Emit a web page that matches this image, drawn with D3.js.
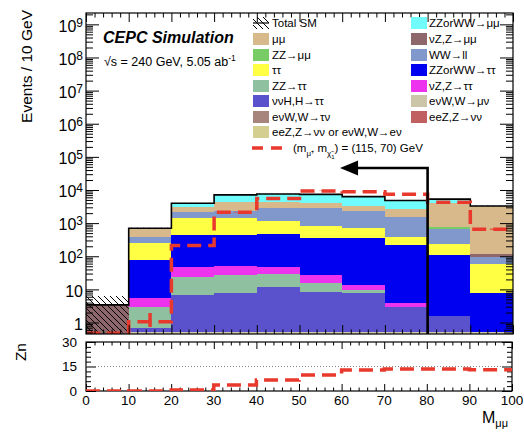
<!DOCTYPE html>
<html>
<head>
<meta charset="utf-8">
<script src="https://cdnjs.cloudflare.com/ajax/libs/d3/7.8.5/d3.min.js"></script>
<style>
body { margin: 0; background: #fff; }
text { font-family: "Liberation Sans", Arial, Helvetica, sans-serif; fill: #000; }
</style>
</head>
<body>
<script>
// bins in M_mumu (GeV)
var binLow = [0, 10, 20, 30, 40, 50, 60, 70, 80, 90];
var binWidth = 10;

// background components, events per bin (stacked bottom -> top)
var evwMunu   = [0, 0.5, 0.5, 0.5, 0.5, 0.5, 0.5, 0.5, 0.5, 0.5];
var vvhTautau = [0, 0.18, 6.3, 7.4, 11.5, 8, 7.1, 2.5, 1.07, 0];
var zzTautau  = [0, 2.3, 17, 19, 16.6, 6.8, 2, 0, 0, 0];
var vzTautau  = [0, 2.4, 23, 24, 20, 11.7, 4, 0.8, 0, 0];
var zzwwTautau = [0, 72, 393, 389, 411, 338, 336, 215, 108, 7.5];
var tautau    = [0, 170, 970, 1000, 710, 475, 350, 171, 125, 49];
var wwLL      = [0, 143, 690, 860, 1630, 1960, 1640, 1190, 435, 36];
var zzMumu    = [0, 0, 0, 0, 0, 0, 0, 0, 80, 0];
var vzMumu    = [3.4, 0, 0, 0, 0, 0, 0, 0, 0, 24];
var mumu      = [0, 265, 1060, 1900, 1670, 1200, 1060, 1060, 3250, 3180];
var zzwwMumu  = [0, 45, 840, 2900, 3130, 3400, 2900, 2160, 1300, 0];
var evwTaunu  = [0, 0, 0, 0, 0, 0, 0, 0, 0, 0];
var eezNunu   = [0, 0, 0, 0, 0, 0, 0, 0, 0, 0];
var eezOrEvw  = [0, 0, 0, 0, 0, 0, 0, 0, 0, 0];

// uncertainty on total SM
var totalUnc = [2.9, 25, 80, 100, 110, 100, 100, 90, 90, 70];

// signal (m_smuon, m_chi) = (115, 70) GeV
var signal    = [0.47, 1.05, 210, 2140, 5500, 9400, 8900, 7400, 4300, 655];
var signalErr = [0, 0.9, 15, 45, 75, 100, 95, 85, 65, 25];

// significance per bin
var zn = [0, 0.05, 0.6, 3.7, 6.7, 9.8, 12.9, 13.5, 13.5, 13.0];

// axis ticks
var yMajor = [1, 10, 1e2, 1e3, 1e4, 1e5, 1e6, 1e7, 1e8, 1e9];
var xMajor = [0, 10, 20, 30, 40, 50, 60, 70, 80, 90, 100];
var znMajor = [0, 15, 30];

// stack order and styles
var stackKeys = ["evwMunu", "vvhTautau", "zzTautau", "vzTautau", "zzwwTautau", "tautau",
                 "wwLL", "zzMumu", "vzMumu", "mumu", "zzwwMumu", "evwTaunu", "eezNunu", "eezOrEvw"];
var stackSeries = {evwMunu: evwMunu, vvhTautau: vvhTautau, zzTautau: zzTautau, vzTautau: vzTautau,
    zzwwTautau: zzwwTautau, tautau: tautau, wwLL: wwLL, zzMumu: zzMumu, vzMumu: vzMumu,
    mumu: mumu, zzwwMumu: zzwwMumu, evwTaunu: evwTaunu, eezNunu: eezNunu, eezOrEvw: eezOrEvw};
var colors = {
    mumu: "#d7b98c", zzMumu: "#77cc66", tautau: "#ffff44", zzTautau: "#8fc1a0",
    vvhTautau: "#5a52cc", evwTaunu: "#a8857c", eezOrEvw: "#d4cf90",
    zzwwMumu: "#70fcfc", vzMumu: "#8d676c", wwLL: "#8098cc", zzwwTautau: "#0000f0",
    vzTautau: "#ee33ee", evwMunu: "#ccc6a8", eezNunu: "#c06060"
};

var leftLegend = [["mumu", "μμ"], ["zzMumu", "ZZ→μμ"], ["tautau", "ττ"], ["zzTautau", "ZZ→ττ"],
    ["vvhTautau", "ννH,H→ττ"], ["evwTaunu", "eνW,W→τν"], ["eezOrEvw", "eeZ,Z→νν or eνW,W→eν"]];
var rightLegend = [["zzwwMumu", "ZZorWW→μμ"], ["vzMumu", "νZ,Z→μμ"], ["wwLL", "WW→ll"],
    ["zzwwTautau", "ZZorWW→ττ"], ["vzTautau", "νZ,Z→ττ"], ["evwMunu", "eνW,W→μν"], ["eezNunu", "eeZ,Z→νν"]];

var W = 524, H = 432;
var frame = {left: 86, right: 513, top: 13, bottom: 334};
var lower = {left: 86, right: 512, top: 342, bottom: 391};
var red = "#e8392c";

var svg = d3.select("body").append("svg")
    .attr("width", W)
    .attr("height", H);

// scales
var x = d3.scaleLinear().domain([0, 100]).range([frame.left, frame.right]);
var xl = d3.scaleLinear().domain([0, 100]).range([lower.left, lower.right]);
var yMin = 0.45;
var y = d3.scaleLog().domain([yMin, 2.2e9]).range([frame.bottom, frame.top]);
var yz = d3.scaleLinear().domain([0, 30]).range([lower.bottom, lower.top]);
function yc(v) { return y(Math.max(v, yMin)); }

var defs = svg.append("defs");
defs.append("clipPath").attr("id", "clipMain")
    .append("rect")
    .attr("x", frame.left).attr("y", frame.top)
    .attr("width", frame.right - frame.left).attr("height", frame.bottom - frame.top);
defs.append("clipPath").attr("id", "clipLow")
    .append("rect")
    .attr("x", lower.left).attr("y", lower.top)
    .attr("width", lower.right - lower.left).attr("height", lower.bottom - lower.top);
var hatch = defs.append("pattern")
    .attr("id", "hatch")
    .attr("patternUnits", "userSpaceOnUse")
    .attr("width", 6).attr("height", 6);
hatch.append("path")
    .attr("d", "M0,0L6,6M-1,5L1,7M5,-1L7,1")
    .attr("stroke", "#000")
    .attr("stroke-width", 1);

// build table for the stack
var table = binLow.map(function(lo, i) {
    var row = {lo: lo};
    stackKeys.forEach(function(k) { row[k] = stackSeries[k][i]; });
    return row;
});
var stacked = d3.stack().keys(stackKeys)(table);
var totals = table.map(function(r) {
    return d3.sum(stackKeys, function(k) { return r[k]; });
});

var main = svg.append("g").attr("clip-path", "url(#clipMain)");

// stacked histograms
stacked.forEach(function(layer) {
    main.append("g")
        .attr("shape-rendering", "crispEdges")
        .selectAll("rect")
        .data(layer.filter(function(d) { return d[1] - d[0] > 0; }))
        .enter().append("rect")
        .attr("x", function(d) { return x(d.data.lo); })
        .attr("width", function(d) { return x(d.data.lo + binWidth) - x(d.data.lo); })
        .attr("y", function(d) { return yc(d[1]); })
        .attr("height", function(d) { return yc(d[0]) - yc(d[1]); })
        .attr("fill", colors[layer.key]);
});

// total SM uncertainty band
main.append("g")
    .selectAll("rect")
    .data(binLow)
    .enter().append("rect")
    .attr("x", function(d) { return x(d); })
    .attr("width", function(d) { return x(d + binWidth) - x(d); })
    .attr("y", function(d, i) { return yc(totals[i] + totalUnc[i]); })
    .attr("height", function(d, i) { return yc(totals[i] - totalUnc[i]) - yc(totals[i] + totalUnc[i]); })
    .attr("fill", "url(#hatch)");

// step line helper
function steps(vals) {
    var pts = [];
    binLow.forEach(function(lo, i) {
        pts.push([lo, vals[i]]);
        pts.push([lo + binWidth, vals[i]]);
    });
    return pts;
}

main.append("path")
    .datum(steps(totals))
    .attr("fill", "none")
    .attr("stroke", "#000")
    .attr("stroke-width", 1.6)
    .attr("d", d3.line().x(function(d) { return x(d[0]); }).y(function(d) { return yc(d[1]); }));

// signal
main.append("path")
    .datum(steps(signal))
    .attr("fill", "none")
    .attr("stroke", red)
    .attr("stroke-width", 3.5)
    .attr("stroke-dasharray", "14,7")
    .attr("d", d3.line().x(function(d) { return x(d[0]); }).y(function(d) { return yc(d[1]); }));

main.append("g")
    .selectAll("line")
    .data(binLow)
    .enter().append("line")
    .attr("x1", function(d) { return x(d + binWidth / 2); })
    .attr("x2", function(d) { return x(d + binWidth / 2); })
    .attr("y1", function(d, i) { return yc(signal[i] + signalErr[i]); })
    .attr("y2", function(d, i) { return yc(signal[i] - signalErr[i]); })
    .attr("stroke", red)
    .attr("stroke-width", 3.5)
    .attr("stroke-dasharray", "14,7");

// cut arrow at M_mumu < 80
var cutX = 80, arrowTipX = 59.5, arrowY = 4.6e4;
svg.append("path")
    .attr("d", "M" + x(cutX) + "," + frame.bottom + "V" + y(arrowY) + "H" + (x(arrowTipX) + 16))
    .attr("fill", "none")
    .attr("stroke", "#000")
    .attr("stroke-width", 2.6);
svg.append("path")
    .attr("d", "M" + x(arrowTipX) + "," + y(arrowY) +
               "L" + (x(arrowTipX) + 18) + "," + (y(arrowY) - 7.5) +
               "L" + (x(arrowTipX) + 18) + "," + (y(arrowY) + 7.5) + "Z")
    .attr("fill", "#000");

// frames
svg.append("rect")
    .attr("x", frame.left).attr("y", frame.top)
    .attr("width", frame.right - frame.left).attr("height", frame.bottom - frame.top)
    .attr("fill", "none").attr("stroke", "#000").attr("stroke-width", 1.2);
svg.append("rect")
    .attr("x", lower.left).attr("y", lower.top)
    .attr("width", lower.right - lower.left).attr("height", lower.bottom - lower.top)
    .attr("fill", "none").attr("stroke", "#000").attr("stroke-width", 1.2);

// ticks (inward, ROOT style)
function tickRow(gen, tx, ty, vals, size) {
    svg.append("g")
        .attr("transform", "translate(" + tx + "," + ty + ")")
        .call(gen.tickValues(vals).tickSize(-size).tickFormat(""))
        .call(function(g) { g.select(".domain").remove(); });
}
var yMinor = [];
for (var e = -1; e <= 9; e++) {
    for (var m = 2; m <= 9; m++) {
        var v = m * Math.pow(10, e);
        if (v >= yMin && v <= 2.2e9) yMinor.push(v);
    }
}
var xMinor = d3.range(0, 101, 2).filter(function(v) { return v % 10 !== 0; });
var znMinor = d3.range(0, 31, 3).filter(function(v) { return v % 15 !== 0; });

tickRow(d3.axisLeft(y), frame.left, 0, yMajor, 13);
tickRow(d3.axisLeft(y), frame.left, 0, yMinor, 7);
tickRow(d3.axisRight(y), frame.right, 0, yMajor, 13);
tickRow(d3.axisRight(y), frame.right, 0, yMinor, 7);
tickRow(d3.axisBottom(x), 0, frame.bottom, xMajor, 9);
tickRow(d3.axisBottom(x), 0, frame.bottom, xMinor, 4.5);
tickRow(d3.axisTop(x), 0, frame.top, xMajor, 9);
tickRow(d3.axisTop(x), 0, frame.top, xMinor, 4.5);

tickRow(d3.axisBottom(xl), 0, lower.bottom, xMajor, 7);
tickRow(d3.axisBottom(xl), 0, lower.bottom, xMinor, 3.5);
tickRow(d3.axisTop(xl), 0, lower.top, xMajor, 7);
tickRow(d3.axisTop(xl), 0, lower.top, xMinor, 3.5);
tickRow(d3.axisLeft(yz), lower.left, 0, znMajor, 10);
tickRow(d3.axisLeft(yz), lower.left, 0, znMinor, 5);
tickRow(d3.axisRight(yz), lower.right, 0, znMajor, 10);
tickRow(d3.axisRight(yz), lower.right, 0, znMinor, 5);

// log y labels
var yLab = svg.append("g");
yMajor.forEach(function(v) {
    var ex = Math.round(Math.log10(v));
    var t = yLab.append("text")
        .attr("x", 83)
        .attr("y", y(v))
        .attr("dy", "0.45em")
        .attr("text-anchor", "end")
        .style("font-size", "16px");
    if (ex === 0) t.text("1");
    else if (ex === 1) t.text("10");
    else {
        t.append("tspan").text("10");
        t.append("tspan").attr("dy", -5).style("font-size", "12px").text(ex);
    }
});

// lower panel: reference line at 15 and Zn curve
svg.append("line")
    .attr("x1", lower.left).attr("x2", lower.right)
    .attr("y1", yz(15)).attr("y2", yz(15))
    .attr("stroke", "#666").attr("stroke-width", 0.8)
    .attr("stroke-dasharray", "1,2");

svg.append("g").attr("clip-path", "url(#clipLow)")
    .append("path")
    .datum(steps(zn))
    .attr("fill", "none")
    .attr("stroke", red)
    .attr("stroke-width", 3.5)
    .attr("stroke-dasharray", "14,7")
    .attr("d", d3.line().x(function(d) { return xl(d[0]); }).y(function(d) { return yz(d[1]); }));

svg.append("g")
    .selectAll("text")
    .data(znMajor)
    .enter().append("text")
    .attr("x", 77)
    .attr("y", function(d) { return yz(d); })
    .attr("dy", "0.35em")
    .attr("text-anchor", "end")
    .style("font-size", "13.5px")
    .text(function(d) { return d; });

svg.append("g")
    .selectAll("text")
    .data(xMajor)
    .enter().append("text")
    .attr("x", function(d) { return xl(d); })
    .attr("y", lower.bottom + 14)
    .attr("text-anchor", "middle")
    .style("font-size", "13.5px")
    .text(function(d) { return d; });

// axis titles
svg.append("text")
    .attr("transform", "translate(32,10) rotate(-90)")
    .attr("text-anchor", "end")
    .style("font-size", "15.5px")
    .text("Events / 10 GeV");

svg.append("text")
    .attr("transform", "translate(26,343) rotate(-90)")
    .attr("text-anchor", "end")
    .style("font-size", "15.5px")
    .text("Zn");

var mt = svg.append("text")
    .attr("x", 482)
    .attr("y", 423)
    .style("font-size", "16px");
mt.append("tspan").text("M");
mt.append("tspan").attr("dy", 4).style("font-size", "11px").text("μμ");

// labels
svg.append("text")
    .attr("x", 103)
    .attr("y", 43)
    .style("font-size", "16px")
    .style("font-weight", "bold")
    .style("font-style", "italic")
    .text("CEPC Simulation");

var st = svg.append("text")
    .attr("x", 104)
    .attr("y", 66)
    .style("font-size", "12.5px");
st.append("tspan").text("√s = 240 GeV, 5.05 ab");
st.append("tspan").attr("dy", -5).style("font-size", "8.5px").text("-1");

// legend
var rowY = [23, 39, 55, 70, 86, 101, 117, 132, 148];
var leg = svg.append("g").style("font-size", "11.5px");

leg.append("rect")
    .attr("x", 253).attr("y", rowY[0] - 6)
    .attr("width", 16).attr("height", 12)
    .attr("fill", "url(#hatch)");
leg.append("line")
    .attr("x1", 253).attr("x2", 269)
    .attr("y1", rowY[0]).attr("y2", rowY[0])
    .attr("stroke", "#000").attr("stroke-width", 1.2);
leg.append("text").attr("x", 272).attr("y", rowY[0]).attr("dy", "0.35em").text("Total SM");

leftLegend.forEach(function(d, i) {
    leg.append("rect")
        .attr("x", 253).attr("y", rowY[i + 1] - 6)
        .attr("width", 16).attr("height", 12)
        .attr("fill", colors[d[0]]);
    leg.append("text").attr("x", 272).attr("y", rowY[i + 1]).attr("dy", "0.35em").text(d[1]);
});

rightLegend.forEach(function(d, i) {
    leg.append("rect")
        .attr("x", 411).attr("y", rowY[i] - 6)
        .attr("width", 16).attr("height", 12)
        .attr("fill", colors[d[0]]);
    leg.append("text").attr("x", 429).attr("y", rowY[i]).attr("dy", "0.35em").text(d[1]);
});

leg.append("line")
    .attr("x1", 252).attr("x2", 286)
    .attr("y1", rowY[8]).attr("y2", rowY[8])
    .attr("stroke", red).attr("stroke-width", 3.5)
    .attr("stroke-dasharray", "11,8");
var sl = leg.append("text").attr("x", 293).attr("y", rowY[8]).attr("dy", "0.35em");
sl.append("tspan").text("(m");
sl.append("tspan").attr("dy", 4).style("font-size", "8px").text("μ̃");
sl.append("tspan").attr("dy", -4).text(", m");
sl.append("tspan").attr("dy", 4).style("font-size", "8px").text("χ̃");
sl.append("tspan").attr("dy", 3).style("font-size", "6px").text("1");
sl.append("tspan").attr("dy", -7).text(") = (115, 70) GeV");
</script>
</body>
</html>
